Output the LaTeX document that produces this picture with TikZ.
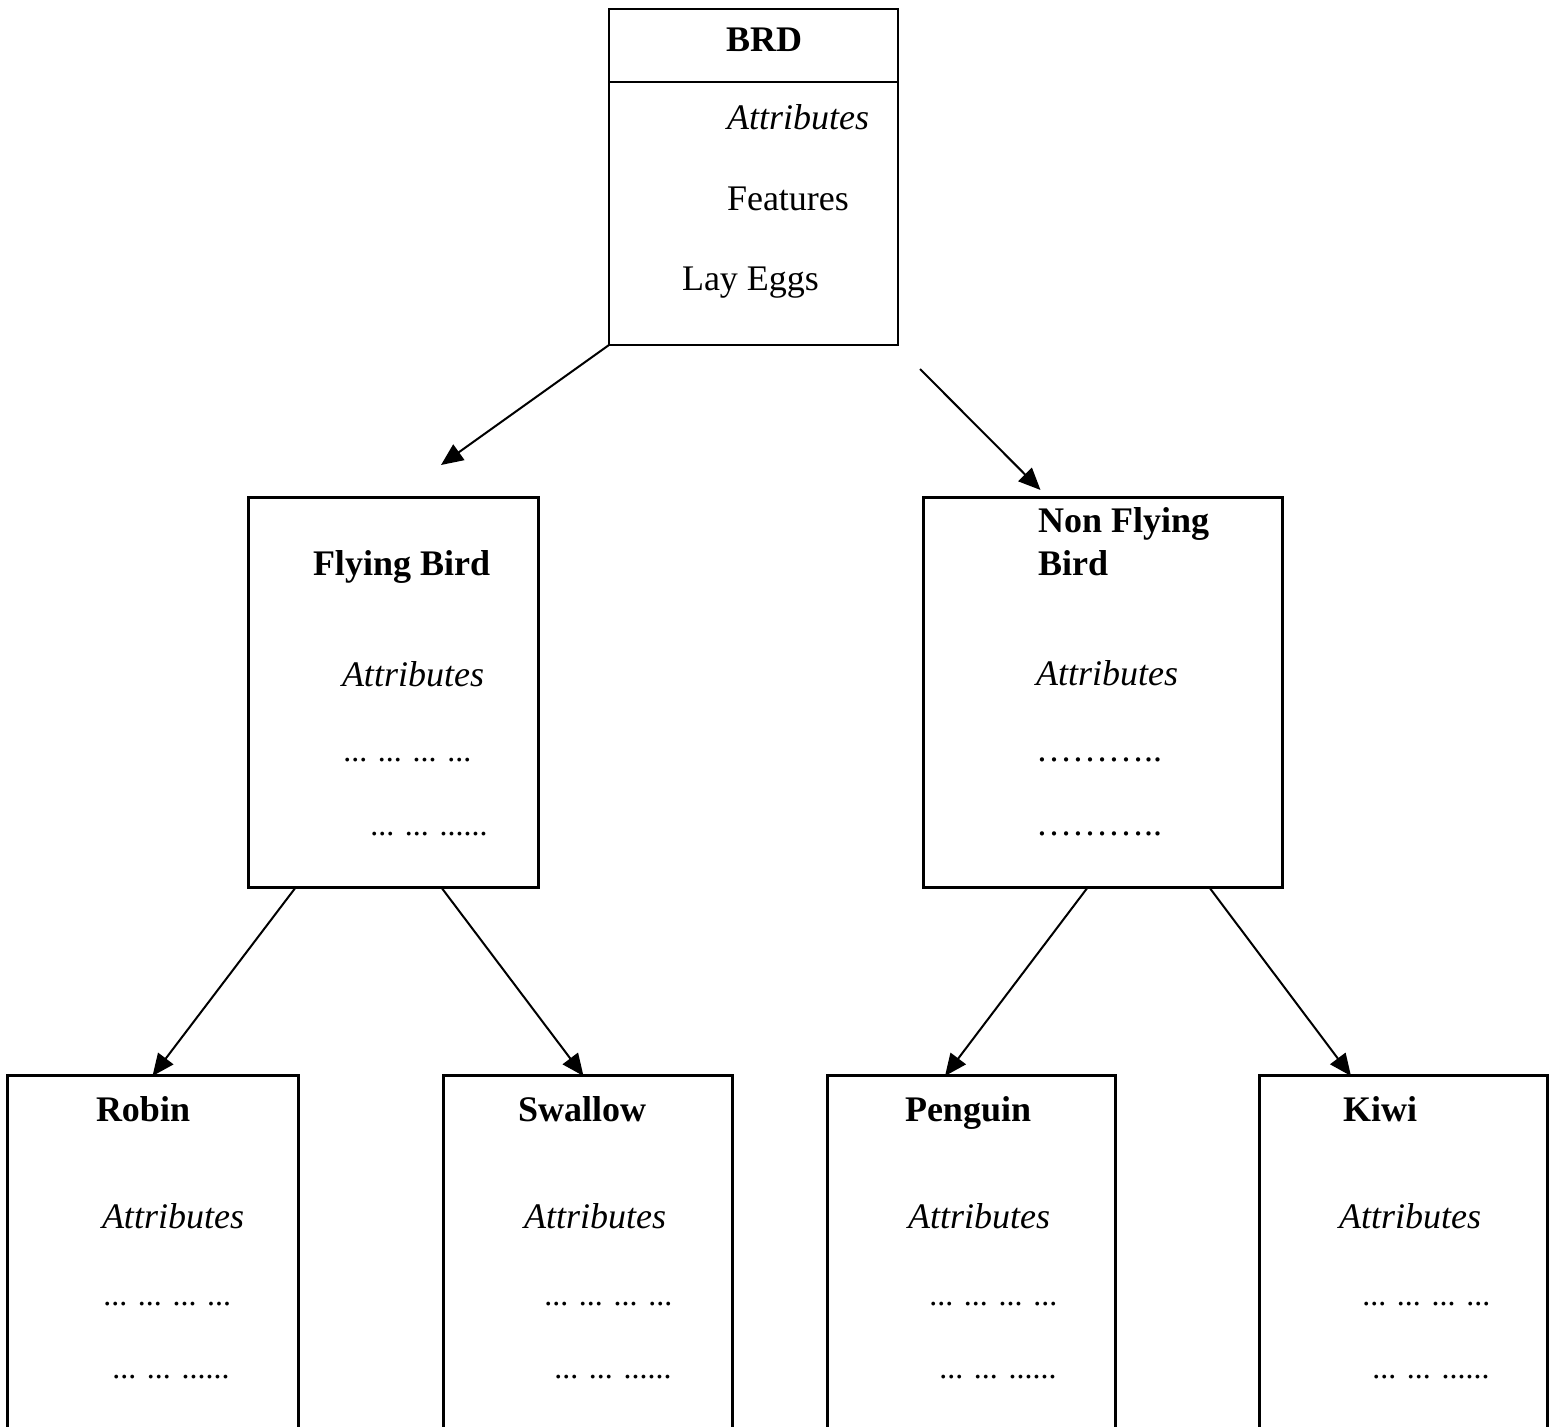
\documentclass[tikz,border=0pt]{standalone}
\usepackage{fontspec}
\setmainfont{Liberation Serif}
\usetikzlibrary{arrows.meta,calc}

\begin{document}
\begin{tikzpicture}[x=0.5pt,y=-0.5pt,
  box/.style={draw, rectangle, line width=1.5pt, inner sep=0pt, outer sep=0pt, anchor=north west},
  txt/.style={inner sep=0pt, outer sep=0pt, anchor=base west, font=\fontsize{18pt}{22pt}\selectfont},
  ttl/.style={txt, font=\fontsize{18pt}{22pt}\selectfont\bfseries},
  attr/.style={txt, font=\fontsize{18pt}{22pt}\selectfont\itshape},
  dts/.style={txt, font=\fontsize{16pt}{19pt}\selectfont\itshape},
  arr/.style={line width=1pt, -{Triangle[length=11pt,width=9.5pt]}}]

\useasboundingbox (0,0) rectangle (1554,1427);
\clip (0,0) rectangle (1554,1427);

% top class
\node[box, line width=1pt, minimum width=144.5pt, minimum height=168pt] (brd) at (609,9) {};
\draw[line width=1pt] ($(brd.north west)+(0,73)$) coordinate (brdl) -- ($(brd.north east)+(0,73)$) coordinate (brdr);
\node[ttl, anchor=base] (brdt) at (764,52) {BRD};
\node[attr] (brda) at (727,130) {Attributes};
\node[txt] (brdf) at (727,211) {Features};
\node[txt] (brde) at (682,291) {Lay Eggs};

% second level
\node[box, minimum width=145pt, minimum height=194.5pt] (fly) at (248,498) {};
\node[ttl] (flyt) at (313,576) {Flying Bird};
\node[attr] (flya) at (342,687) {Attributes};
\node[dts] (flyd1) at (344,762) {... ... ... ...};
\node[dts] (flyd2) at (371,835) {... ... ......};

\node[box, minimum width=179.5pt, minimum height=194.5pt] (nf) at (923,498) {};
\node[ttl] (nft1) at (1038,533) {Non Flying};
\node[ttl] (nft2) at (1038,576) {Bird};
\node[attr] (nfa) at (1036,686) {Attributes};
\node[txt] (nfd1) at (1036,762) {………..};
\node[txt] (nfd2) at (1036,835) {………..};

% third level
\node[box, minimum width=145.5pt, minimum height=185pt] (robin) at (7,1075) {};
\node[ttl] (robint) at (96,1121) {Robin};
\node[attr] (robina) at (102,1228) {Attributes};
\node[dts] (robind1) at (104,1305) {... ... ... ...};
\node[dts] (robind2) at (113,1378) {... ... ......};

\node[box, minimum width=144.5pt, minimum height=185pt] (swallow) at (443,1075) {};
\node[ttl] (swallowt) at (518,1121) {Swallow};
\node[attr] (swallowa) at (524,1228) {Attributes};
\node[dts] (swallowd1) at (545,1305) {... ... ... ...};
\node[dts] (swallowd2) at (555,1378) {... ... ......};

\node[box, minimum width=144pt, minimum height=185pt] (penguin) at (827,1075) {};
\node[ttl] (penguint) at (905,1121) {Penguin};
\node[attr] (penguina) at (908,1228) {Attributes};
\node[dts] (penguind1) at (930,1305) {... ... ... ...};
\node[dts] (penguind2) at (940,1378) {... ... ......};

\node[box, minimum width=144pt, minimum height=185pt] (kiwi) at (1259,1075) {};
\node[ttl] (kiwit) at (1343,1121) {Kiwi};
\node[attr] (kiwia) at (1339,1228) {Attributes};
\node[dts] (kiwid1) at (1363,1305) {... ... ... ...};
\node[dts] (kiwid2) at (1373,1378) {... ... ......};

% inheritance arrows
\draw[arr] (brd.south west) -- ($(fly.north)+(48,-33)$);
\draw[arr] ($(brd.south east)+(22,24)$) -- ($(nf.north)+(-62,-8)$);
\draw[arr] ($(fly.south west)+(48,0)$) -- ($(robin.north)+(0,1)$);
\draw[arr] ($(fly.south west)+(193,0)$) -- ($(swallow.north)+(-4,1)$);
\draw[arr] ($(nf.south west)+(165,0)$) -- ($(penguin.north)+(-26,1)$);
\draw[arr] ($(nf.south west)+(286,0)$) -- ($(kiwi.north)+(-52,1)$);
\end{tikzpicture}
\end{document}
